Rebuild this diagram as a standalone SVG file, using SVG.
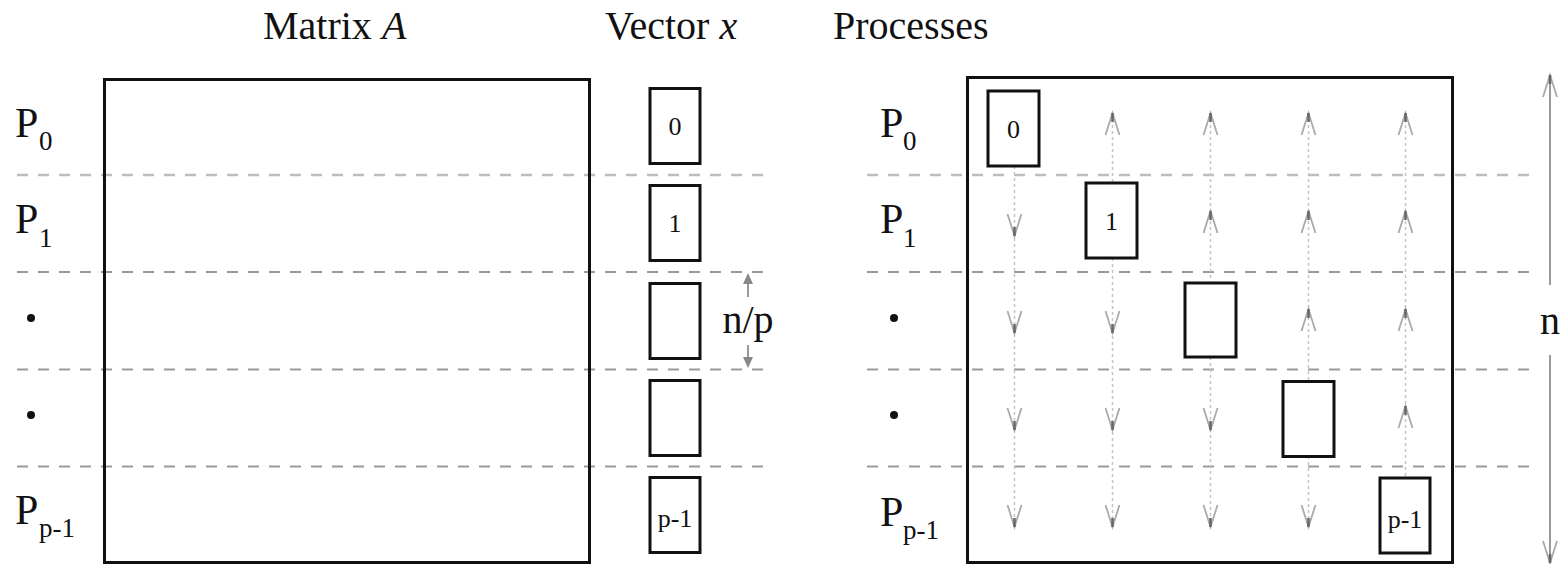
<svg xmlns="http://www.w3.org/2000/svg" xmlns:xlink="http://www.w3.org/1999/xlink" width="1568" height="564" viewBox="0 0 1568 564">
<style>
text{font-family:'Liberation Serif','Times New Roman',serif;fill:#111}
.title{font-size:40px}
.lab{font-size:42px}
.sub{font-size:27px}
.dig{font-size:26px;text-anchor:middle}
.frame{fill:none;stroke:#111;stroke-width:3}
.box{fill:none;stroke:#111;stroke-width:3}
.dash1{stroke:#bdbdbd;stroke-width:2.5;stroke-dasharray:11 10;fill:none}
.dash{stroke:#999;stroke-width:2;stroke-dasharray:11 10;fill:none}
.dot{stroke:#c4c4c4;stroke-width:1.5;stroke-dasharray:3 3;fill:none}
.chev{fill:none;stroke:#aaa;stroke-width:1.8}
.tip{stroke:#666;stroke-width:2.5}
.bigl{stroke:#9a9a9a;stroke-width:2;fill:none}
</style>
<defs>
<g id="up"><path class="chev" d="M-7,22 L0,0 L7,22"/><path class="tip" d="M0,0 L0,9"/></g>
<g id="down"><path class="chev" d="M-7,-22 L0,0 L7,-22"/><path class="tip" d="M0,0 L0,-9"/></g>
</defs>

<g id="titles" font-family="Liberation Serif, serif">
<text class="title" x="263" y="39">Matrix <tspan font-style="italic">A</tspan></text>
<text class="title" x="605" y="39">Vector <tspan font-style="italic">x</tspan></text>
<text class="title" x="833" y="39">Processes</text>
</g>

<g id="separators">
<line class="dash1" x1="17" y1="175" x2="763" y2="175"/>
<line class="dash" x1="17" y1="272" x2="763" y2="272"/>
<line class="dash" x1="17" y1="369.5" x2="763" y2="369.5"/>
<line class="dash" x1="17" y1="466.5" x2="763" y2="466.5"/>
<line class="dash1" x1="867" y1="175" x2="1530" y2="175"/>
<line class="dash" x1="867" y1="272" x2="1530" y2="272"/>
<line class="dash" x1="867" y1="369.5" x2="1530" y2="369.5"/>
<line class="dash" x1="867" y1="466.5" x2="1530" y2="466.5"/>
</g>

<g id="matrixA"><rect class="frame" x="104.5" y="79.5" width="485" height="483"/></g>

<g id="labelsLeft" font-family="Liberation Serif, serif">
<text class="lab" x="15" y="137">P</text><text class="sub" x="39" y="150">0</text>
<text class="lab" x="15" y="233">P</text><text class="sub" x="39" y="247">1</text>
<circle cx="31" cy="318" r="4" fill="#111"/>
<circle cx="31" cy="415" r="4" fill="#111"/>
<text class="lab" x="15" y="524">P</text><text class="sub" x="39" y="537">p-1</text>
</g>

<g id="vectorX" font-family="Liberation Serif, serif">
<g id="vx0"><rect class="box" x="650" y="88.5" width="50" height="75"/><text class="dig" x="675" y="135">0</text></g>
<g id="vx1"><rect class="box" x="650" y="185.5" width="50" height="75"/><text class="dig" x="675" y="232">1</text></g>
<g id="vx2"><rect class="box" x="650" y="283.5" width="50" height="75"/></g>
<g id="vx3"><rect class="box" x="650" y="380.5" width="50" height="75"/></g>
<g id="vx4"><rect class="box" x="650" y="477.5" width="50" height="75"/><text class="dig" x="675" y="527">p-1</text></g>
</g>

<g id="np" font-family="Liberation Serif, serif">
<text class="title" x="748" y="333" text-anchor="middle">n/p</text>
<line class="bigl" x1="748" y1="297" x2="748" y2="276"/>
<path d="M743,284 L748,273 L753,284 Z" fill="#888"/>
<line class="bigl" x1="748" y1="345" x2="748" y2="365"/>
<path d="M743,357 L748,368 L753,357 Z" fill="#888"/>
</g>

<g id="labelsRight" font-family="Liberation Serif, serif">
<text class="lab" x="880" y="137">P</text><text class="sub" x="903" y="150">0</text>
<text class="lab" x="880" y="233">P</text><text class="sub" x="903" y="247">1</text>
<circle cx="894" cy="318" r="4" fill="#111"/>
<circle cx="894" cy="415" r="4" fill="#111"/>
<text class="lab" x="880" y="526">P</text><text class="sub" x="903" y="539">p-1</text>
</g>

<g id="processes"><rect class="frame" x="967.5" y="77.5" width="485" height="485"/></g>

<g id="connectors">
<line class="dot" x1="1014.5" y1="166" x2="1014.5" y2="527"/>
<line class="dot" x1="1112.5" y1="113" x2="1112.5" y2="185"/>
<line class="dot" x1="1112.5" y1="258" x2="1112.5" y2="527"/>
<line class="dot" x1="1210.5" y1="113" x2="1210.5" y2="283"/>
<line class="dot" x1="1210.5" y1="357" x2="1210.5" y2="527"/>
<line class="dot" x1="1308.5" y1="113" x2="1308.5" y2="381"/>
<line class="dot" x1="1308.5" y1="456" x2="1308.5" y2="527"/>
<line class="dot" x1="1405.5" y1="113" x2="1405.5" y2="478"/>
<use xlink:href="#up" x="1112.5" y="113"/>
<use xlink:href="#up" x="1210.5" y="113"/>
<use xlink:href="#up" x="1308.5" y="113"/>
<use xlink:href="#up" x="1405.5" y="113"/>
<use xlink:href="#down" x="1014.5" y="236"/>
<use xlink:href="#up" x="1210.5" y="211"/>
<use xlink:href="#up" x="1308.5" y="211"/>
<use xlink:href="#up" x="1405.5" y="211"/>
<use xlink:href="#down" x="1014.5" y="333"/>
<use xlink:href="#down" x="1112.5" y="333"/>
<use xlink:href="#up" x="1308.5" y="309"/>
<use xlink:href="#up" x="1405.5" y="309"/>
<use xlink:href="#down" x="1014.5" y="430"/>
<use xlink:href="#down" x="1112.5" y="430"/>
<use xlink:href="#down" x="1210.5" y="430"/>
<use xlink:href="#up" x="1405.5" y="406"/>
<use xlink:href="#down" x="1014.5" y="527"/>
<use xlink:href="#down" x="1112.5" y="527"/>
<use xlink:href="#down" x="1210.5" y="527"/>
<use xlink:href="#down" x="1308.5" y="527"/>
</g>

<g id="diag" font-family="Liberation Serif, serif">
<g id="d0"><rect class="box" x="988" y="91" width="51" height="75"/><text class="dig" x="1013.5" y="138">0</text></g>
<g id="d1"><rect class="box" x="1086" y="183" width="51" height="75"/><text class="dig" x="1111.5" y="230">1</text></g>
<g id="d2"><rect class="box" x="1185" y="283" width="51" height="74"/></g>
<g id="d3"><rect class="box" x="1283" y="381.5" width="51" height="75"/></g>
<g id="d4"><rect class="box" x="1380" y="478" width="50" height="75"/><text class="dig" x="1405" y="528">p-1</text></g>
</g>

<g id="nArrow" font-family="Liberation Serif, serif">
<line class="bigl" x1="1550" y1="285" x2="1550" y2="78"/>
<use xlink:href="#up" x="1550" y="75"/>
<text class="title" x="1550" y="334" text-anchor="middle">n</text>
<line class="bigl" x1="1550" y1="355" x2="1550" y2="560"/>
<use xlink:href="#down" x="1550" y="563"/>
</g>
</svg>
